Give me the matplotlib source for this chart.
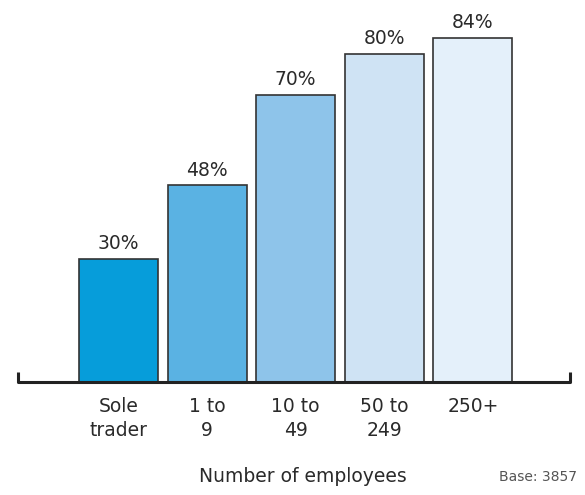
import matplotlib.pyplot as plt

categories = ["Sole\ntrader", "1 to\n9", "10 to\n49", "50 to\n249", "250+"]
values = [30, 48, 70, 80, 84]
colors = ["#069DDA", "#5AB2E3", "#8EC4EA", "#CFE3F4", "#E4F0FA"]

plt.rcParams['font.family'] = ['DejaVu Sans']

fig = plt.figure(figsize=(5.85, 4.95), dpi=100)
ax = fig.add_axes([17 / 585, 113 / 495, 554 / 585, 369 / 495])

x = list(range(len(values)))
bars = ax.bar(x, values, width=0.89, color=colors, edgecolor="#333333", linewidth=1.2)

for b, v in zip(bars, values):
    ax.annotate(f"{v}%", (b.get_x() + b.get_width() / 2, v), xytext=(0, 4),
                textcoords="offset points", ha="center", va="bottom",
                fontsize=13.5, color="#2a2a2a")

xmin, xmax = -1.146, 5.107
ax.set_xlim(xmin, xmax)
ax.set_ylim(0, 90)

# baseline with small upturned ends
ax.plot([xmin + 0.01, xmin + 0.01, xmax - 0.01, xmax - 0.01], [2.4, 0, 0, 2.4],
        color="#222222", linewidth=2.2, clip_on=False, solid_capstyle="butt")

for s in ax.spines.values():
    s.set_visible(False)
ax.set_yticks([])
ax.set_xticks(x)
ax.set_xticklabels(categories, fontsize=13.5, color="#2a2a2a", linespacing=1.3)
ax.tick_params(axis="x", length=0, pad=11)

fig.text(303 / 585, 1 - 477 / 495, "Number of employees", ha="center", va="center",
         fontsize=13.5, color="#2a2a2a")
fig.text(577 / 585, 1 - 477 / 495, "Base: 3857", ha="right", va="center",
         fontsize=10, color="#555555")

fig.savefig("out.png", dpi=100)
